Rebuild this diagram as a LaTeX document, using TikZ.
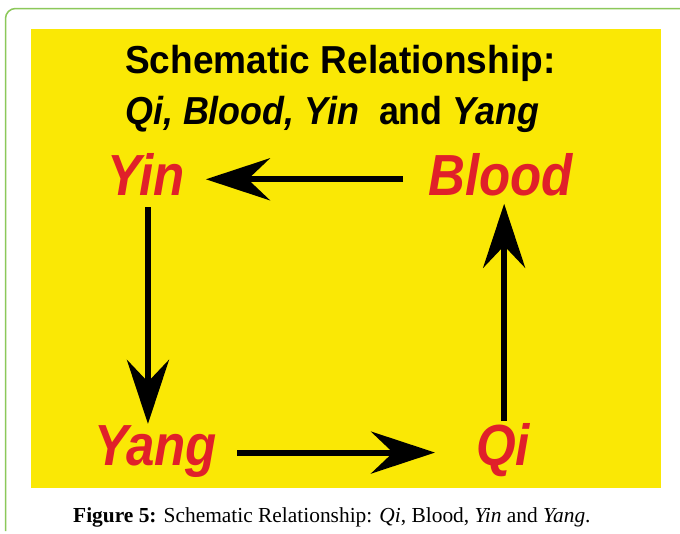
\documentclass[tikz,border=0pt]{standalone}
\usepackage{fontspec}
\setmainfont{Liberation Serif}
\newfontfamily\titlefont[FakeStretch=0.95]{Liberation Sans}
\newfontfamily\titlefontb[FakeStretch=0.92]{Liberation Sans}
\newfontfamily\labfont[FakeStretch=0.88]{Liberation Sans}
\usetikzlibrary{arrows.meta,calc}
\definecolor{bgyellow}{RGB}{250,232,5}
\definecolor{labred}{RGB}{224,32,42}
\definecolor{framegreen}{RGB}{140,200,90}
\begin{document}
\begin{tikzpicture}[x=1pt,y=-1pt,
  lab/.style={font=\labfont\bfseries\itshape\fontsize{58}{58}\selectfont, text=labred, inner sep=0pt, anchor=base west},
  ttl/.style={font=\titlefont\bfseries\fontsize{39}{39}\selectfont, text=black, inner sep=0pt, anchor=base west},
  ttlb/.style={ttl, font=\titlefontb\bfseries\fontsize{39}{39}\selectfont},
  arr/.style={line width=6pt, -{Stealth[length=64pt,width=42pt,inset=22pt]}}]
\useasboundingbox (0,0) rectangle (680,533);
\fill[white] (0,0) rectangle (680,533);
% frame
\draw[framegreen, line width=1.5pt, rounded corners=10pt] (5.5,531) -- (5.5,8.5) -- (680,8.5);
% yellow panel
\fill[bgyellow] (31,29) rectangle (661,488);
% title
\node[ttl] (t1) at (125,73) {Schematic Relationship:};
\node[ttlb] (t2) at (125,124) {\itshape Qi, Blood, Yin\ \ \upshape and \itshape Yang};
% labels
\node[lab] (yin) at (107,195) {Yin};
\node[lab] (blood) at (428,195) {Blood};
\node[lab] (yang) at (94,465) {Yang};
\node[lab] (qi) at (476,465) {Qi};
% arrows
\draw[arr] ([xshift=-25pt,yshift=-5pt]blood.west) coordinate (h0) -- ($(h0 -| yin.east)+(21,0)$);
\draw[arr] ([xshift=2pt,yshift=-12pt]yin.south) coordinate (v0) -- ($(v0 |- yang.north)+(0,-1)$);
\draw[arr] ([xshift=20pt,yshift=-1.5pt]yang.east) coordinate (b0) -- ($(qi.west |- b0)+(-41,0)$);
\draw[arr] ([xshift=1pt,yshift=1.5pt]qi.north) coordinate (r0) -- ($(r0 |- blood.south)+(0,8)$);
% caption
\node[anchor=base west, inner sep=0pt, font=\fontsize{21.4}{21.4}\selectfont] (cap) at (73,522) {\textbf{Figure 5:} Schematic Relationship: \textit{Qi}, Blood, \textit{Yin} and \textit{Yang}.};
\end{tikzpicture}
\end{document}
